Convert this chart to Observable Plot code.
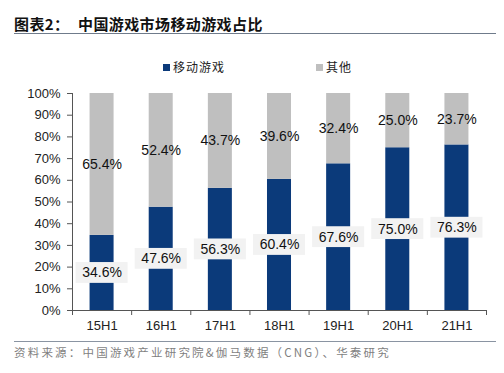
<!DOCTYPE html>
<html>
<head>
<meta charset="utf-8">
<script src="https://cdn.jsdelivr.net/npm/d3@7"></script>
<script src="https://cdn.jsdelivr.net/npm/@observablehq/plot@0.6"></script>
<style>
  html, body { margin: 0; padding: 0; background: #fff; }
  #wrap { position: relative; width: 504px; height: 373px; overflow: hidden; font-family: "Liberation Sans", Arial, sans-serif; }
  #title { position: absolute; left: 14px; top: 14px; width: 482px; height: 19px; border-bottom: 1.5px solid #6f7b8b;
    font-family: "Noto Sans CJK SC", sans-serif; font-weight: 700; font-size: 15px; letter-spacing: 0.4px; line-height: 19px; color: #111; white-space: nowrap; }
  #title span { position: absolute; top: 0; }
  #legend { position: absolute; left: 0; top: 58px; width: 504px; height: 18px; font-family: "Noto Sans CJK SC", sans-serif; font-size: 12px; letter-spacing: 1px; color: #222; }
  .item { position: absolute; top: 0; line-height: 18px; display: flex; align-items: center; }
  .sw { width: 7px; height: 7px; display: inline-block; margin-right: 3px; }
  #chart { position: absolute; left: 0; top: 80px; }
  #source { position: absolute; left: 14px; top: 341px; width: 482px; border-top: 1px solid #8a94a2; padding-top: 2px;
    font-family: "Noto Sans CJK SC", serif; font-size: 11.5px; letter-spacing: 2.2px; color: #7f7f7f; white-space: nowrap; }
</style>
</head>
<body>
<div id="wrap">
  <div id="title"><span style="left:0">图表2：</span><span style="left:64px">中国游戏市场移动游戏占比</span></div>
  <div id="legend"></div>
  <div id="chart"></div>
  <div id="source">资料来源：中国游戏产业研究院&amp;伽马数据（CNG）、华泰研究</div>
</div>
<script>
const categories = ["15H1", "16H1", "17H1", "18H1", "19H1", "20H1", "21H1"];
const mobile = [34.6, 47.6, 56.3, 60.4, 67.6, 75.0, 76.3];
const other = [65.4, 52.4, 43.7, 39.6, 32.4, 25.0, 23.7];
const seriesNames = ["移动游戏", "其他"];
const seriesColors = ["#0b3a7a", "#bfbfbf"];
const yTicks = [0, 10, 20, 30, 40, 50, 60, 70, 80, 90, 100];

// legend
const legend = document.getElementById("legend");
[[163, 0], [316, 1]].forEach(([left, i]) => {
  const el = document.createElement("div");
  el.className = "item";
  el.style.left = left + "px";
  el.innerHTML = `<span class="sw" style="background:${seriesColors[i]}"></span>${seriesNames[i]}`;
  legend.appendChild(el);
});

const rows = categories.map((c, i) => ({ i, c, m: mobile[i], o: other[i] }));
const barHalf = 0.203;
const boxHalf = 0.44;
const boxHalfH = 4.8;

const chart = Plot.plot({
  width: 504,
  height: 261,
  marginTop: 13,
  marginBottom: 31,
  marginLeft: 72,
  marginRight: 18,
  style: { fontFamily: "'Liberation Sans', Arial, sans-serif", fontSize: "13px", color: "#222", background: "transparent" },
  x: { domain: [0, categories.length], axis: null },
  y: { domain: [0, 100], axis: null },
  marks: [
    Plot.rectY(rows, { x1: d => d.i + 0.5 - barHalf, x2: d => d.i + 0.5 + barHalf, y1: 0, y2: d => d.m, fill: seriesColors[0] }),
    Plot.rectY(rows, { x1: d => d.i + 0.5 - barHalf, x2: d => d.i + 0.5 + barHalf, y1: d => d.m, y2: d => d.m + d.o, fill: seriesColors[1] }),
    Plot.rect(rows, { x1: d => d.i + 0.5 - boxHalf, x2: d => d.i + 0.5 + boxHalf, y1: d => d.m / 2 - boxHalfH, y2: d => d.m / 2 + boxHalfH, fill: "#f2f2f2" }),
    Plot.text(rows, { x: d => d.i + 0.5, y: d => d.m / 2, text: d => d.m.toFixed(1) + "%", fontSize: 14, fill: "#111" }),
    Plot.text(rows, { x: d => d.i + 0.5, y: d => d.m + d.o / 2, text: d => d.o.toFixed(1) + "%", fontSize: 14, fill: "#111" }),
    Plot.ruleY([0], { stroke: "#555" }),
    Plot.ruleX([0], { stroke: "#555" }),
    Plot.axisY({ ticks: yTicks, tickSize: 5, tickPadding: 7, tickFormat: d => d + "%", stroke: "#555", fontSize: 13 }),
    Plot.axisX({ ticks: d3.range(categories.length + 1), tickSize: 5, tickFormat: () => "", stroke: "#555" }),
    Plot.axisX({ ticks: categories.map((c, i) => i + 0.5), tickSize: 0, tickPadding: 10, tickFormat: d => categories[Math.floor(d)], fontSize: 13 })
  ]
});
document.getElementById("chart").appendChild(chart);
</script>
</body>
</html>
